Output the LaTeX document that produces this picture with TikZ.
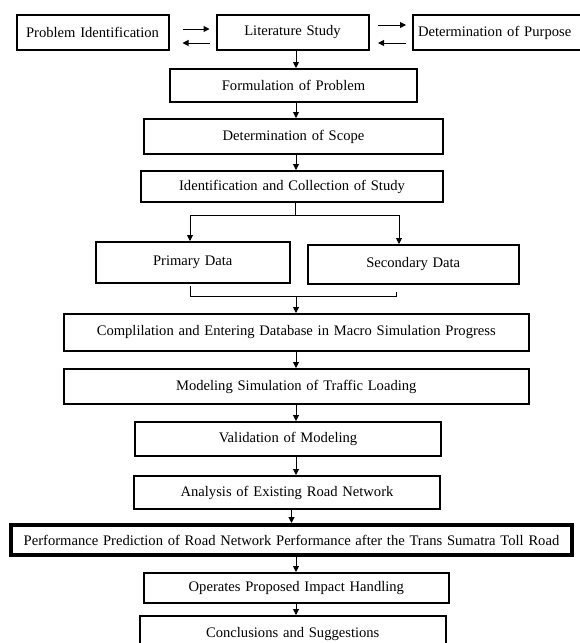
\documentclass[tikz,border=0pt]{standalone}
\usepackage{fontspec}
\setmainfont{Liberation Serif}[WordSpace={1.3}]
\usetikzlibrary{arrows.meta}
\begin{document}
\begin{tikzpicture}[x=1pt,y=-1pt,
  box/.style={draw, line width=2pt, inner sep=0pt, font=\fontsize{14.6}{16}\selectfont},
  arr/.style={line width=1pt, -{Triangle[length=6pt,width=6pt]}},
  ln/.style={line width=1pt}]
\useasboundingbox (0,0) rectangle (580,643);
\fill[white] (0,0) rectangle (580,643);
% row 1
\node[box, minimum width=152pt, minimum height=35pt] (pi) at (92.5,32.5) {Problem Identification};
\node[box, minimum width=152pt, minimum height=35pt] (ls) at (292.5,32.5) {Literature Study};
\node[box, minimum height=35pt, text width=162pt, inner xsep=5pt, align=left] (dp) at (499,32.5) {Determination of Purpose};
\node[box, minimum width=247pt, minimum height=33pt] (fop) at (293.5,85.5) {Formulation of Problem};
\node[box, minimum width=299pt, minimum height=35pt] (dos) at (293.5,136.5) {Determination of Scope};
\node[box, minimum width=302pt, minimum height=31pt] (ic) at (292,186.5) {Identification and Collection of Study};
\node[box, minimum width=194.5pt, minimum height=41pt] (prim) at (192.75,262.5) {Primary Data};
\node[box, minimum width=210.5pt, minimum height=39pt] (sec) at (413.25,264.5) {Secondary Data};
\node[box, minimum width=464.5pt, minimum height=37pt] (comp) at (296.25,332.5) {Complilation and Entering Database in Macro Simulation Progress};
\node[box, minimum width=464.5pt, minimum height=35pt] (mod) at (296.25,386.5) {Modeling Simulation of Traffic Loading};
\node[box, minimum width=306pt, minimum height=34pt] (val) at (288,439) {Validation of Modeling};
\node[box, minimum width=306pt, minimum height=33pt] (ana) at (287,492.5) {Analysis of Existing Road Network};
\node[box, line width=4pt, minimum width=561pt, minimum height=30pt] (perf) at (291.5,540) {Performance Prediction of Road Network Performance after the Trans Sumatra Toll Road};
\node[box, minimum width=305pt, minimum height=30pt] (op) at (296.35,588) {Operates Proposed Impact Handling};
\node[box, minimum width=305.5pt, minimum height=36pt] (con) at (292.75,634) {Conclusions and Suggestions};
% helper coordinates
\coordinate (ax) at (296,0);
\coordinate (ax2) at (291.5,0);
\coordinate (br) at (295,215);
\coordinate (bl) at (190,215);
\coordinate (brr) at (399,215);
\coordinate (jl) at (190,296);
\coordinate (jr) at (396,296);
\coordinate (jm) at (296,296);
% row 1 arrows
\draw[arr, shorten <=13pt, shorten >=6pt] ([yshift=3.5pt]pi.east) -- ([yshift=3.5pt]pi.east -| ls.west);
\draw[arr, shorten <=6pt, shorten >=13pt] ([yshift=-10.5pt]ls.west) -- ([yshift=-10.5pt]ls.west -| pi.east);
\draw[arr, shorten <=8.5pt, shorten >=6pt] ([yshift=7.5pt]ls.east) -- ([yshift=7.5pt]ls.east -| dp.west);
\draw[arr, shorten <=6pt, shorten >=8.5pt] ([yshift=-10.5pt]dp.west) -- ([yshift=-10.5pt]dp.west -| ls.east);
% vertical chain
\draw[arr] (ls.south -| ax) -- (fop.north -| ax);
\draw[arr] (fop.south -| ax) -- (dos.north -| ax);
\draw[arr] (dos.south -| ax) -- (ic.north -| ax);
% branch
\draw[ln] (ic.south -| br) -- (br);
\draw[ln] (bl) -- (brr);
\draw[arr] (bl) -- (bl |- prim.north);
\draw[arr] (brr) -- (brr |- sec.north);
% join
\draw[ln] ([yshift=10pt]jl) -- (jl) -- (jr) -- ([yshift=4pt]jr);
\draw[arr] (jm) -- (jm |- comp.north);
\draw[arr] (comp.south -| ax) -- (mod.north -| ax);
\draw[arr] (mod.south -| ax) -- (val.north -| ax);
\draw[arr] (val.south -| ax) -- (ana.north -| ax);
\draw[arr] (ana.south -| ax2) -- (perf.north -| ax2);
\draw[arr] (perf.south -| ax) -- (op.north -| ax);
\draw[arr] (op.south -| ax) -- (con.north -| ax);
\end{tikzpicture}
\end{document}
